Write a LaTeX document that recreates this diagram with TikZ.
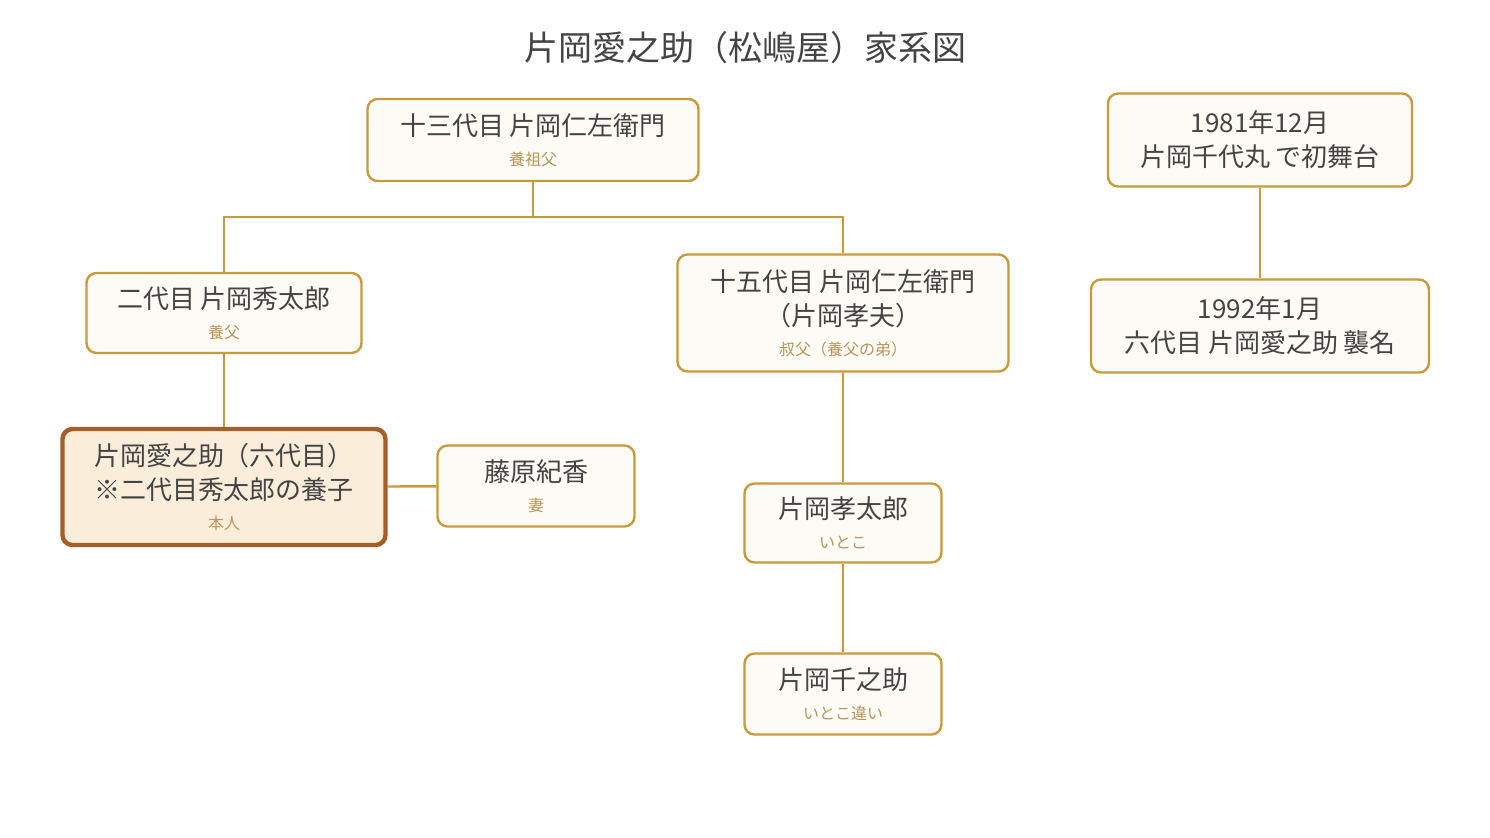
\documentclass[tikz,border=0pt]{standalone}
\usepackage{fontspec}
\setmainfont{Noto Sans CJK JP}
\definecolor{bd}{HTML}{C99A3C}
\definecolor{fl}{HTML}{FDFBF5}
\definecolor{sub}{HTML}{B8955A}
\definecolor{txt}{HTML}{444444}
\definecolor{sbd}{HTML}{A55F2A}
\definecolor{sfl}{HTML}{FAEEDB}
\begin{document}
\begin{tikzpicture}[x=0.5pt,y=-0.5pt,
 box/.style={draw=bd,fill=fl,line width=1.2pt,rounded corners=5pt,align=center,text=txt,font=\fontsize{13}{17}\selectfont,inner sep=0pt},
 self/.style={box,draw=sbd,fill=sfl,line width=2.2pt},
 ln/.style={draw=bd,line width=1.2pt},
 s/.style={font=\fontsize{8}{10}\selectfont,text=sub}]
\useasboundingbox (0,0) rectangle (1490,837);
\node[font=\fontsize{17}{20}\selectfont,text=txt] (t) at (745,48) {片岡愛之助（松嶋屋）家系図};
\node[box,minimum width=331*0.5pt,minimum height=82*0.5pt] (A) at (533,140) {十三代目 片岡仁左衛門\\[-2pt]{\fontsize{8}{10}\selectfont\color{sub}養祖父}};
\node[box,minimum width=275*0.5pt,minimum height=80*0.5pt] (B) at (224,313) {二代目 片岡秀太郎\\[-2pt]{\fontsize{8}{10}\selectfont\color{sub}養父}};
\node[box,minimum width=331*0.5pt,minimum height=117*0.5pt] (C) at (843,313) {十五代目 片岡仁左衛門\\（片岡孝夫）\\[-2pt]{\fontsize{8}{10}\selectfont\color{sub}叔父（養父の弟）}};
\node[self,minimum width=323*0.5pt,minimum height=116*0.5pt] (D) at (224,487) {片岡愛之助（六代目）\\※二代目秀太郎の養子\\[-2pt]{\fontsize{8}{10}\selectfont\color{sub}本人}};
\node[box,minimum width=197*0.5pt,minimum height=81*0.5pt] (E) at (536,486) {藤原紀香\\[-2pt]{\fontsize{8}{10}\selectfont\color{sub}妻}};
\node[box,minimum width=197*0.5pt,minimum height=79*0.5pt] (F) at (843,523) {片岡孝太郎\\[-2pt]{\fontsize{8}{10}\selectfont\color{sub}いとこ}};
\node[box,minimum width=197*0.5pt,minimum height=81*0.5pt] (G) at (843,694) {片岡千之助\\[-2pt]{\fontsize{8}{10}\selectfont\color{sub}いとこ違い}};
\node[box,minimum width=304*0.5pt,minimum height=93*0.5pt] (H) at (1260,140) {1981年12月\\片岡千代丸 で初舞台};
\node[box,minimum width=338*0.5pt,minimum height=93*0.5pt] (I) at (1260,326) {1992年1月\\六代目 片岡愛之助 襲名};
\coordinate (j) at (533,217);
\begin{scope}[on background layer/.style={}]
\draw[ln] (A.south) -- (j);
\draw[ln] (B.north) |- (j) -| (C.north);
\draw[ln] (B) -- (D);
\draw[ln] (D) -- (E);
\draw[ln] (C) -- (F);
\draw[ln] (F) -- (G);
\draw[ln] (H) -- (I);
\end{scope}
\end{tikzpicture}
\end{document}
